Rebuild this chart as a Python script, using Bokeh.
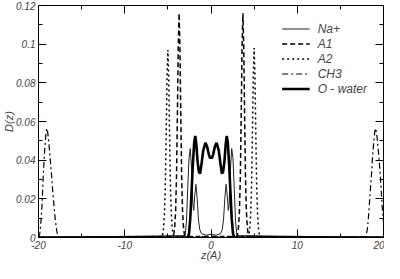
from bokeh.plotting import figure
from bokeh.models import LinearAxis, FixedTicker, Range1d, Legend, LegendItem, CustomLabelingPolicy
from bokeh.embed import file_html
from bokeh.resources import INLINE

# ---- data ----
x_ticks = [-20, -10, 0, 10, 20]
x_minor = [-15, -5, 5, 15]
x_tick_labels = ["-20", "-10", "0", "10", "20"]
y_ticks = [0, 0.02, 0.04, 0.06, 0.08, 0.1, 0.12]
y_minor = [0.01, 0.03, 0.05, 0.07, 0.09, 0.11]
y_tick_labels = ["0", "0.02", "0.04", "0.06", "0.08", "0.1", "0.12"]

series_names = ["Na+", "A1", "A2", "CH3", "O - water"]

na_z = [-20, -3.0, -2.85, -2.7, -2.55, -2.4, -2.25, -2.1, -2.0, -1.9, -1.75, -1.6, -1.45, -1.3,
        -1.1, -0.6, 0, 0.6, 1.1, 1.3, 1.45, 1.6, 1.75, 1.9, 2.0, 2.1, 2.25, 2.4, 2.55, 2.7,
        2.85, 3.0, 20]
na_d = [0, 0.001, 0.008, 0.025, 0.041, 0.046, 0.035, 0.017, 0.014, 0.021, 0.0275, 0.02, 0.009,
        0.004, 0.002, 0.0012, 0.0016, 0.0012, 0.002, 0.004, 0.009, 0.02, 0.0275, 0.021, 0.014,
        0.017, 0.035, 0.046, 0.041, 0.025, 0.008, 0.001, 0]

a1_z = [-20, -4.4, -4.3, -4.2, -4.1, -4.0, -3.9, -3.8, -3.7, -3.6, -3.5, -3.4, -3.3, -3.2, -3.1,
        -3.0, 3.0, 3.1, 3.2, 3.3, 3.4, 3.5, 3.6, 3.7, 3.8, 3.9, 4.0, 4.1, 4.2, 4.3, 4.4, 20]
a1_d = [0, 0.0005, 0.002, 0.006, 0.014, 0.031, 0.062, 0.098, 0.116, 0.098, 0.062, 0.031, 0.014,
        0.006, 0.002, 0.0005, 0.0005, 0.002, 0.006, 0.014, 0.031, 0.062, 0.098, 0.116, 0.098,
        0.062, 0.031, 0.014, 0.006, 0.002, 0.0005, 0]

a2_z = [-20, -5.7, -5.6, -5.5, -5.4, -5.3, -5.2, -5.1, -5.0, -4.9, -4.8, -4.7, -4.6, -4.5, -4.4,
        -4.3, 4.3, 4.4, 4.5, 4.6, 4.7, 4.8, 4.9, 5.0, 5.1, 5.2, 5.3, 5.4, 5.5, 5.6, 5.7, 20]
a2_d = [0, 0.0004, 0.0017, 0.005, 0.012, 0.026, 0.052, 0.082, 0.097, 0.082, 0.052, 0.026, 0.012,
        0.005, 0.0017, 0.0004, 0.0004, 0.0017, 0.005, 0.012, 0.026, 0.052, 0.083, 0.098, 0.083,
        0.052, 0.026, 0.012, 0.005, 0.0017, 0.0004, 0]

ch3_z = [-20, -19.85, -19.7, -19.6, -19.45, -19.3, -19.15, -19.05, -18.95, -18.8, -18.65, -18.5,
         -18.35, -18.2, -18.05, -17.9, -17.75, 17.95, 18.15, 18.3, 18.45, 18.6, 18.75, 18.9,
         19.0, 19.1, 19.25, 19.4, 19.55, 19.7, 19.85, 20]
ch3_d = [0, 0.002, 0.009, 0.016, 0.032, 0.044, 0.053, 0.0565, 0.055, 0.049, 0.041, 0.033, 0.024,
         0.016, 0.009, 0.004, 0, 0, 0.005, 0.013, 0.023, 0.032, 0.043, 0.051, 0.055, 0.0565,
         0.052, 0.045, 0.037, 0.027, 0.016, 0.008]

ow_z = [-20, -2.7, -2.55, -2.4, -2.25, -2.1, -1.95, -1.82, -1.7, -1.55, -1.4, -1.27, -1.1, -0.9,
        -0.65, -0.45, -0.25, -0.1, 0, 0.1, 0.25, 0.45, 0.65, 0.9, 1.1, 1.27, 1.4, 1.55, 1.7,
        1.82, 1.95, 2.1, 2.25, 2.4, 2.55, 2.7, 20]
ow_d = [0, 0, 0.002, 0.01, 0.024, 0.038, 0.049, 0.0525, 0.048, 0.039, 0.034, 0.033, 0.038, 0.045,
        0.049, 0.047, 0.043, 0.041, 0.0415, 0.041, 0.043, 0.047, 0.049, 0.045, 0.038, 0.033,
        0.034, 0.039, 0.048, 0.0525, 0.049, 0.038, 0.024, 0.01, 0.002, 0, 0]

FONT = "Liberation Sans"

p = figure(width=384, height=263, output_backend="svg", toolbar_location=None,
           x_range=Range1d(-20, 20), y_range=Range1d(0, 0.12),
           x_axis_type=None, y_axis_type=None,
           min_border_left=30, min_border_right=1, min_border_top=5, min_border_bottom=20)
p.xgrid.visible = False
p.ygrid.visible = False
p.outline_line_color = "black"
p.outline_line_width = 1
p.background_fill_color = "white"
p.border_fill_color = "white"

no_labels = CustomLabelingPolicy(code="""
const ones = Array.from(indices);
for (const i of ones) {
  if (typeof indices.unset === "function") { indices.unset(i); } else { indices.set(i, false); }
}
return indices;
""")

def style_axis(ax, show_labels):
    ax.axis_line_color = "black"
    ax.axis_line_width = 1
    ax.major_tick_in = 8
    ax.major_tick_out = 0
    ax.minor_tick_in = 4
    ax.minor_tick_out = 0
    ax.major_tick_line_color = "black"
    ax.minor_tick_line_color = "black"
    ax.major_label_text_font = FONT
    ax.major_label_text_font_style = "italic"
    ax.major_label_text_font_size = "10px"
    ax.major_label_standoff = 3 if show_labels else 0
    ax.axis_label_text_font = FONT
    ax.axis_label_text_font_style = "italic"
    ax.axis_label_text_font_size = "11px"
    ax.axis_label_standoff = -3
    if not show_labels:
        ax.major_label_text_font_size = "0px"
        ax.major_label_policy = no_labels

xt = FixedTicker(ticks=x_ticks, minor_ticks=x_minor)
yt = FixedTicker(ticks=y_ticks, minor_ticks=y_minor)

xb = LinearAxis(ticker=xt, axis_label="z(A)")
style_axis(xb, True)
xb.major_label_overrides = {t: l for t, l in zip(x_ticks, x_tick_labels)}
p.add_layout(xb, "below")

yl = LinearAxis(ticker=yt, axis_label="D(z)")
style_axis(yl, True)
yl.axis_label_standoff = -2
yl.major_label_overrides = {t: l for t, l in zip(y_ticks, y_tick_labels)}
p.add_layout(yl, "left")

xa = LinearAxis(ticker=xt)
style_axis(xa, False)
p.add_layout(xa, "above")

yr = LinearAxis(ticker=yt)
style_axis(yr, False)
p.add_layout(yr, "right")

r_na = p.line(na_z, na_d, line_color="#222222", line_width=1)
r_a1 = p.line(a1_z, a1_d, line_color="black", line_width=1.5, line_dash="5 3")
r_a2 = p.line(a2_z, a2_d, line_color="black", line_width=1.5, line_dash="2 3")
r_ch3 = p.line(ch3_z, ch3_d, line_color="black", line_width=1.2, line_dash="6 3 2 3")
r_ow = p.line(ow_z, ow_d, line_color="black", line_width=2.6)

renderers = [r_na, r_a1, r_a2, r_ch3, r_ow]
legend = Legend(items=[LegendItem(label=n, renderers=[r]) for n, r in zip(series_names, renderers)],
                location="top_right")
legend.border_line_alpha = 0
legend.background_fill_alpha = 0
legend.label_text_font = FONT
legend.label_text_font_style = "italic"
legend.label_text_font_size = "12px"
legend.glyph_width = 28
legend.glyph_height = 15
legend.label_height = 15
legend.label_standoff = 8
legend.spacing = 0
legend.padding = 2
legend.margin = 14
p.add_layout(legend)

open("out.html", "w").write(file_html(p, INLINE))
